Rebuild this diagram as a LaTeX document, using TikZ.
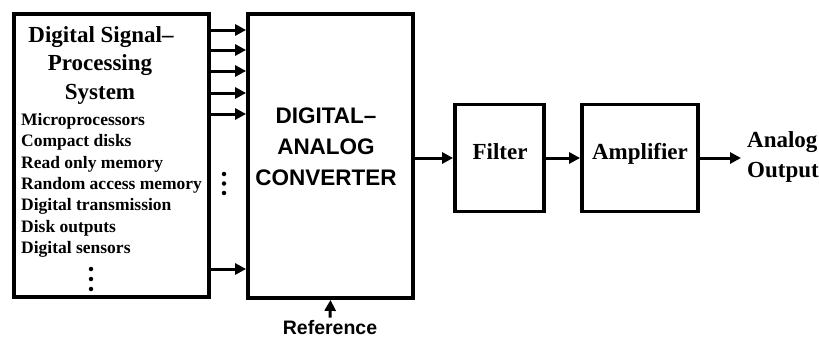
\documentclass[tikz,border=0pt]{standalone}
\usepackage{fontspec}
\setmainfont{Liberation Serif}
\setsansfont{Liberation Sans}
\usetikzlibrary{arrows.meta}
\begin{document}
\begin{tikzpicture}[x=1pt,y=-1pt,
  box/.style={draw, line width=3.8pt, inner sep=0pt},
  arr/.style={line width=3pt, -{Triangle[length=11pt,width=11pt]}},
  sertxt/.style={inner sep=0pt, anchor=base, font=\fontsize{23}{27}\selectfont\bfseries},
  itemtxt/.style={inner sep=0pt, anchor=base west, font=\fontsize{17.5}{20}\selectfont\bfseries},
  santxt/.style={inner sep=0pt, anchor=base, font=\fontsize{22.5}{26}\selectfont\sffamily\bfseries},
  dotmark/.style={fill, circle, inner sep=0pt, minimum size=4.5pt}]
\useasboundingbox (0,0) rectangle (819,340);
% boxes
\node[box, minimum width=195pt, minimum height=283pt] (dsp) at (111.5,155.5) {};
\node[box, minimum width=165pt, minimum height=284pt] (dac) at (330.5,156) {};
\node[box, minimum width=89pt, minimum height=107pt] (filter) at (499.5,158) {};
\node[box, minimum width=116pt, minimum height=107pt] (amp) at (640,158) {};
% DSP title
\node[sertxt] (t1) at (101,42) {Digital Signal–};
\node[sertxt] (t2) at (100,70) {Processing};
\node[sertxt] (t3) at (100,99) {System};
% items
\node[itemtxt] (i1) at (21,125) {Microprocessors};
\node[itemtxt] (i2) at (21,146.5) {Compact disks};
\node[itemtxt] (i3) at (21,168) {Read only memory};
\node[itemtxt] (i4) at (21,189) {Random access memory};
\node[itemtxt] (i5) at (21,210.5) {Digital transmission};
\node[itemtxt] (i6) at (21,232) {Disk outputs};
\node[itemtxt] (i7) at (21,253) {Digital sensors};
\node[dotmark] (d1) at (91,269) {};
\node[dotmark] (d2) at (91,279) {};
\node[dotmark] (d3) at (91,289) {};
\node[dotmark] (d4) at (224,174) {};
\node[dotmark] (d5) at (224,183.5) {};
\node[dotmark] (d6) at (224,193) {};
% DAC text
\node[santxt] (c1) at (326,123) {DIGITAL–};
\node[santxt] (c2) at (326,154) {ANALOG};
\node[santxt] (c3) at (326,185) {CONVERTER};
% filter / amplifier text
\node[sertxt] (ft) at (500,159) {Filter};
\node[sertxt] (at) at (640,159) {Amplifier};
\node[sertxt, anchor=base west] (o1) at (747,147) {Analog};
\node[sertxt, anchor=base west] (o2) at (747,177) {Output};
% reference
\node[inner sep=0pt, anchor=base, font=\fontsize{19.5}{23}\selectfont\sffamily\bfseries] (ref) at (330,334) {Reference};
% connectors
\foreach \yy in {30,50,71,93,114,269}
  \draw[arr] (dsp.east |- 0,\yy) -- (dac.west |- 0,\yy);
\draw[arr] (dac.east |- filter.west) -- (filter.west);
\draw[arr] (filter.east) -- (amp.west);
\coordinate (outend) at (741,158);
\draw[arr] (amp.east) -- (outend);
\draw[arr] (ref.north) ++(0,-2) -- (dac.south);
\end{tikzpicture}
\end{document}
